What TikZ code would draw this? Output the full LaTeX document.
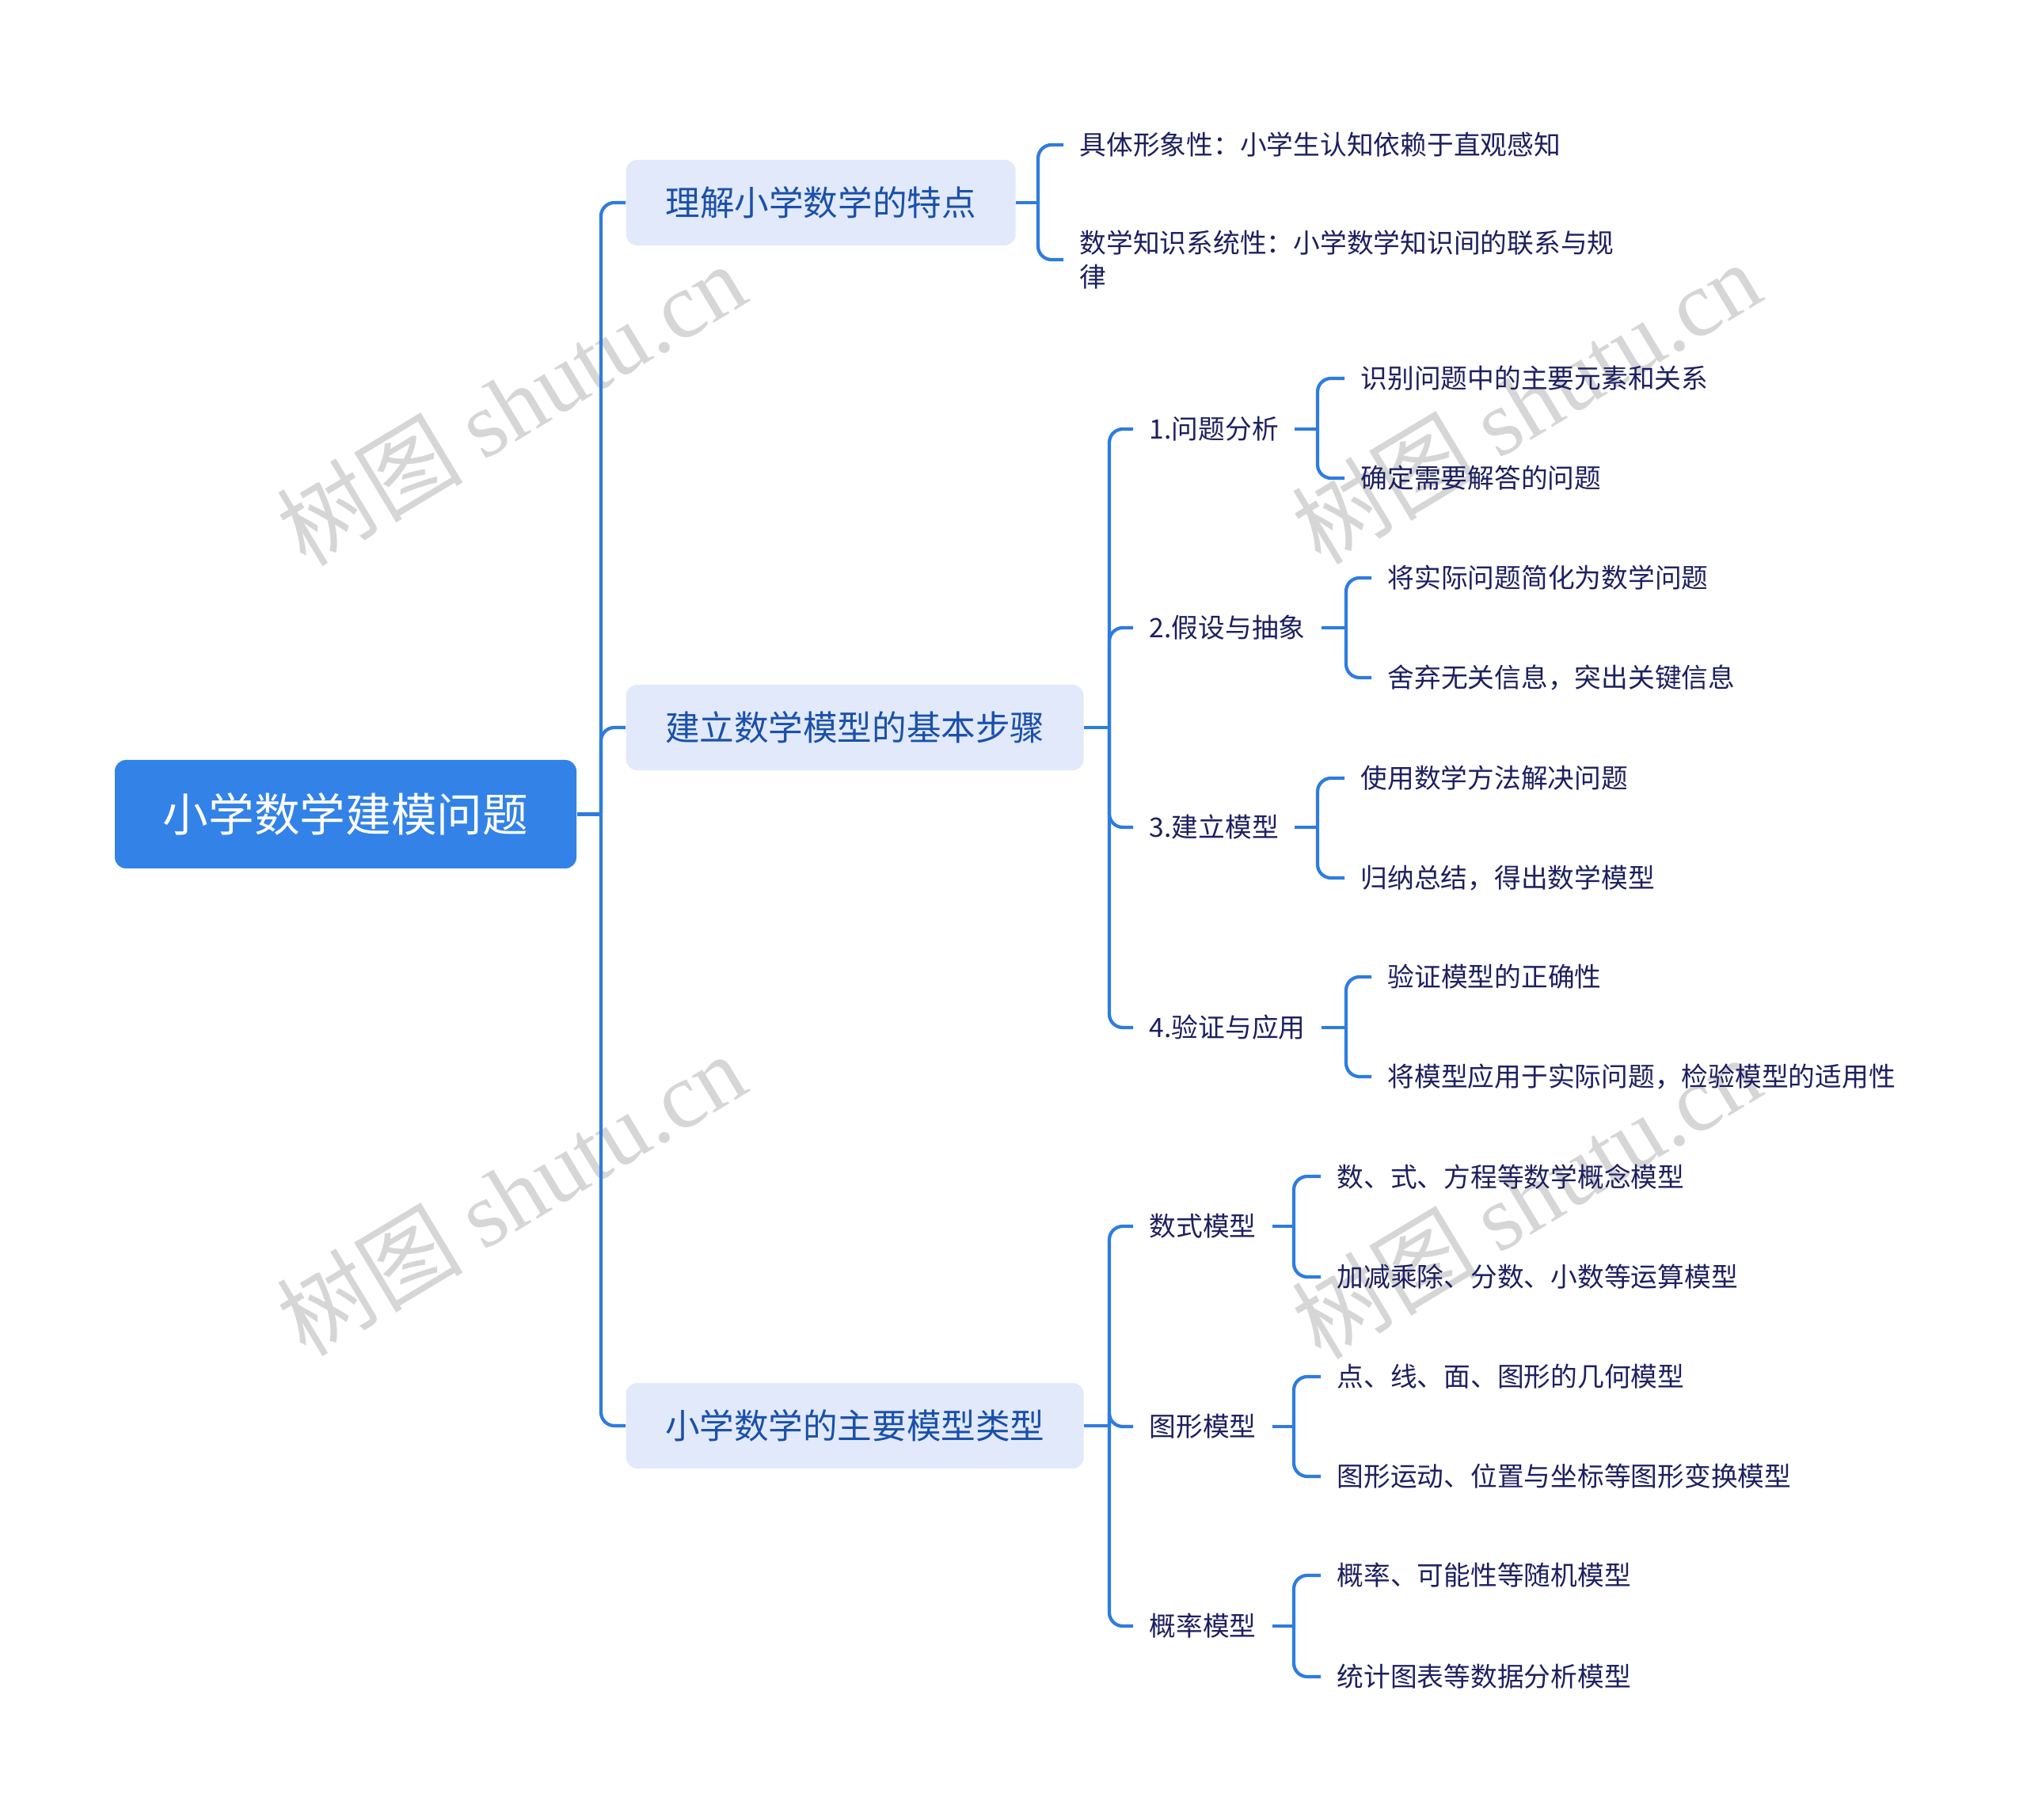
\documentclass[tikz,border=0pt]{standalone}
\usepackage{fontspec}
\setmainfont{Noto Sans CJK SC}
\newfontfamily\wmlatin{Liberation Serif}
\usepackage{tikz}
\usetikzlibrary{positioning}
\definecolor{Line}{HTML}{2E7CDF}
\definecolor{Root}{HTML}{3282E8}
\definecolor{Topic}{HTML}{E1E9FB}
\definecolor{TopicInk}{HTML}{1A50AA}
\definecolor{Ink}{HTML}{1C2060}
\definecolor{Mark}{HTML}{D6D6D6}

\begin{document}
\begin{tikzpicture}[
  root/.style={fill=Root, text=white, rounded corners=4pt, minimum width=5.83cm, minimum height=1.37cm, font=\fontsize{16.4}{20}\selectfont},
  topic/.style={fill=Topic, text=TopicInk, rounded corners=4pt, minimum height=1.08cm, anchor=west, font=\fontsize{12.4}{15}\selectfont},
  sub/.style={text=Ink, anchor=west, inner xsep=0.2cm, inner ysep=2pt, align=left, font=\fontsize{9.6}{12}\selectfont},
  link/.style={draw=Line, line width=1.2pt, rounded corners=0.17cm},
  wm/.style={text=Mark, rotate=31, font=\fontsize{33.5}{34}\selectfont},
]
\useasboundingbox (0,0) rectangle (25.6,-22.99);
% watermark
\node[wm] (w1) at (6.45,-5.10) {树图 {\wmlatin shutu.cn}};
\node[wm] (w2) at (19.27,-5.08) {树图 {\wmlatin shutu.cn}};
\node[wm] (w3) at (6.45,-15.08) {树图 {\wmlatin shutu.cn}};
\node[wm] (w4) at (19.27,-15.12) {树图 {\wmlatin shutu.cn}};

\node[root] (rt) at (4.365,-10.285) {小学数学建模问题};
\node[topic, minimum width=4.92cm] (la) at (7.90,-2.56) {理解小学数学的特点};
\node[topic, minimum width=5.78cm] (lb) at (7.90,-9.19) {建立数学模型的基本步骤};
\node[topic, minimum width=5.78cm] (lc) at (7.90,-18.01) {小学数学的主要模型类型};

\node[sub] (p1) at (13.43,-1.83) {具体形象性：小学生认知依赖于直观感知};
\node[sub] (p2) at (13.43,-3.28) {数学知识系统性：小学数学知识间的联系与规\\律};

\node[sub] (s1) at (14.31,-5.42) {1.问题分析};
\node[sub] (s2) at (14.31,-7.93) {2.假设与抽象};
\node[sub] (s3) at (14.31,-10.45) {3.建立模型};
\node[sub] (s4) at (14.31,-12.98) {4.验证与应用};
\node[sub] (t1) at (14.31,-15.49) {数式模型};
\node[sub] (t2) at (14.31,-18.02) {图形模型};
\node[sub] (t3) at (14.31,-20.54) {概率模型};

\node[sub] (a1) at (16.98,-4.78) {识别问题中的主要元素和关系};
\node[sub] (a2) at (16.98,-6.04) {确定需要解答的问题};
\node[sub] (b1) at (17.32,-7.30) {将实际问题简化为数学问题};
\node[sub] (b2) at (17.32,-8.56) {舍弃无关信息，突出关键信息};
\node[sub] (c1) at (16.98,-9.83) {使用数学方法解决问题};
\node[sub] (c2) at (16.98,-11.09) {归纳总结，得出数学模型};
\node[sub] (d1) at (17.32,-12.34) {验证模型的正确性};
\node[sub] (d2) at (17.32,-13.60) {将模型应用于实际问题，检验模型的适用性};
\node[sub] (e1) at (16.68,-14.86) {数、式、方程等数学概念模型};
\node[sub] (e2) at (16.68,-16.13) {加减乘除、分数、小数等运算模型};
\node[sub] (f1) at (16.68,-17.39) {点、线、面、图形的几何模型};
\node[sub] (f2) at (16.68,-18.65) {图形运动、位置与坐标等图形变换模型};
\node[sub] (g1) at (16.68,-19.90) {概率、可能性等随机模型};
\node[sub] (g2) at (16.68,-21.18) {统计图表等数据分析模型};

% junctions
\coordinate (jr) at (7.59,-10.285);
\coordinate (ja) at (13.11,-2.56);
\coordinate (jb) at (14.01,-9.19);
\coordinate (jc) at (14.01,-18.01);
\coordinate (js1) at (16.64,-5.42);
\coordinate (js2) at (17.00,-7.93);
\coordinate (js3) at (16.64,-10.45);
\coordinate (js4) at (17.00,-12.98);
\coordinate (jt1) at (16.34,-15.49);
\coordinate (jt2) at (16.34,-18.02);
\coordinate (jt3) at (16.34,-20.54);

\draw[link] (rt) -- (jr);
\draw[link] (jr) |- (la);
\draw[link] (jr) |- (lb);
\draw[link] (jr) |- (lc);

\draw[link] (la) -- (ja);
\draw[link] (ja) |- (p1);
\draw[link] (ja) |- (p2);

\draw[link] (lb) -- (jb);
\draw[link] (jb) |- (s1);
\draw[link] (jb) |- (s2);
\draw[link] (jb) |- (s3);
\draw[link] (jb) |- (s4);
\draw[link] (lc) -- (jc);
\draw[link] (jc) |- (t1);
\draw[link] (jc) |- (t2);
\draw[link] (jc) |- (t3);

\draw[link] (s1) -- (js1);
\draw[link] (js1) |- (a1);
\draw[link] (js1) |- (a2);
\draw[link] (s2) -- (js2);
\draw[link] (js2) |- (b1);
\draw[link] (js2) |- (b2);
\draw[link] (s3) -- (js3);
\draw[link] (js3) |- (c1);
\draw[link] (js3) |- (c2);
\draw[link] (s4) -- (js4);
\draw[link] (js4) |- (d1);
\draw[link] (js4) |- (d2);
\draw[link] (t1) -- (jt1);
\draw[link] (jt1) |- (e1);
\draw[link] (jt1) |- (e2);
\draw[link] (t2) -- (jt2);
\draw[link] (jt2) |- (f1);
\draw[link] (jt2) |- (f2);
\draw[link] (t3) -- (jt3);
\draw[link] (jt3) |- (g1);
\draw[link] (jt3) |- (g2);
\end{tikzpicture}
\end{document}
